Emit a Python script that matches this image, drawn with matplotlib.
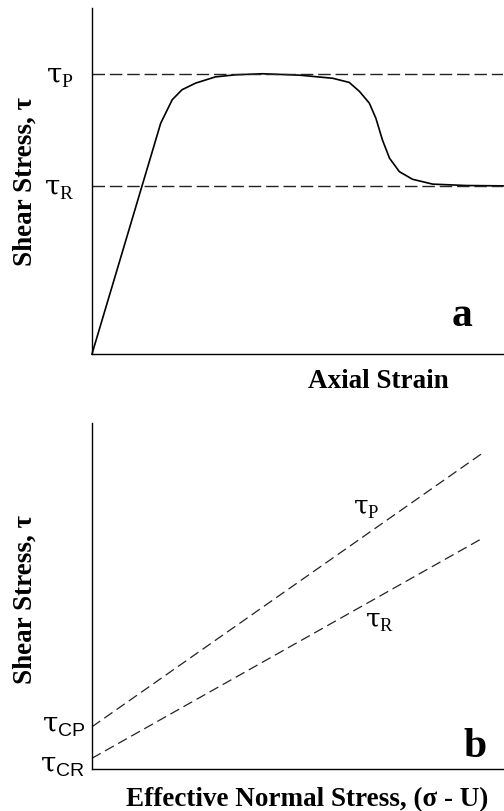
import matplotlib
matplotlib.use("Agg")
import matplotlib.pyplot as plt
import matplotlib.transforms as mtransforms

plt.rcParams['font.family'] = ['Liberation Serif', 'DejaVu Serif']
plt.rcParams['mathtext.fontset'] = 'custom'
plt.rcParams['mathtext.rm'] = 'Liberation Serif'
plt.rcParams['mathtext.it'] = 'DejaVu Serif'
plt.rcParams['mathtext.sf'] = 'Liberation Sans'

# ---- panel a: stress-strain curve ----
strain = [0, 16.7, 18.1, 19.5, 21.9, 25.2, 30.0, 34.9, 41.4,
          50.4, 58.5, 62.5, 65.0, 67.4, 69.0, 70.6, 72.3, 74.7, 77.9, 82.8,
          90.9, 100]
stress = [0, 66.7, 70.1, 73.5, 76.4, 78.3, 80.1, 80.7, 81.0,
          80.6, 79.7, 78.5, 75.9, 72.5, 68.1, 61.8, 56.6, 52.7, 50.5, 49.1,
          48.7, 48.6]
tau_peak = 80.9
tau_resid = 48.6
labels_a = [r'$\mathit{\tau}_{\rm P}$', r'$\mathit{\tau}_{\rm R}$']

# ---- panel b: failure envelopes ----
sigma = [0, 94.9]
env_peak = [12.2, 91.3]
env_resid = [3.1, 66.7]
labels_b = [r'$\mathit{\tau}_{\mathsf{CP}}$', r'$\mathit{\tau}_{\mathsf{CR}}$']

fig = plt.figure(figsize=(5.04, 8.11), dpi=100)

ax1 = fig.add_axes([0.1825, 0.5635, 0.8165, 0.4266])
ax2 = fig.add_axes([0.1825, 0.0518, 0.8165, 0.4266])

for ax in (ax1, ax2):
    ax.set_xlim(0, 100)
    ax.set_ylim(0, 100)
    ax.spines['top'].set_visible(False)
    ax.spines['right'].set_visible(False)
    ax.spines['left'].set_linewidth(1.0)
    ax.spines['bottom'].set_linewidth(1.0)
    ax.set_xticks([])
    ax.tick_params(axis='y', length=0, labelsize=20)

# panel a
ax1.plot(strain, stress, color='black', lw=1.2, clip_on=False)
ax1.axhline(tau_peak, color='#222222', lw=1.0, dashes=(9, 3.5))
ax1.axhline(tau_resid, color='#222222', lw=1.0, dashes=(9, 3.5))
ax1.set_yticks([tau_peak, tau_resid])
ax1.set_yticklabels(labels_a)
ax1.tick_params(axis='y', pad=13)
ax1.set_ylabel('Shear Stress, τ', fontsize=19.5, fontweight='bold')
ax1.set_xlabel('Axial Strain', fontsize=19.5, fontweight='bold')
ax1.xaxis.set_label_coords(0.696, -0.044)
ax1.yaxis.set_label_coords(-0.131, 0.50)
ax1.text(0.9, 0.055, 'a', transform=ax1.transAxes, fontsize=30,
         fontweight='bold', ha='center', va='bottom')

# panel b
ax2.plot(sigma, env_peak, color='#222222', lw=0.9, dashes=(8, 4))
ax2.plot(sigma, env_resid, color='#222222', lw=0.9, dashes=(8, 4))
ax2.set_yticks([])
trans = mtransforms.blended_transform_factory(ax2.transAxes, ax2.transData)
ax2.text(-0.017, env_peak[0], labels_b[0], transform=trans, fontsize=20,
         ha='right', va='center')
trans_low = mtransforms.offset_copy(trans, fig=fig, x=0, y=-6, units='points')
ax2.text(-0.017, env_resid[0], labels_b[1], transform=trans_low, fontsize=20,
         ha='right', va='center')
ax2.text(66.7, 74.9, r'$\mathit{\tau}_{\rm P}$', fontsize=19, ha='center', va='center')
ax2.text(69.8, 42.2, r'$\mathit{\tau}_{\rm R}$', fontsize=19, ha='center', va='center')
ax2.set_ylabel('Shear Stress, τ', fontsize=19.5, fontweight='bold')
ax2.set_xlabel('Effective Normal Stress, (σ - U)', fontsize=19.5, fontweight='bold')
ax2.xaxis.set_label_coords(0.523, -0.052)
ax2.yaxis.set_label_coords(-0.131, 0.49)
ax2.text(0.93, 0.01, 'b', transform=ax2.transAxes, fontsize=30,
         fontweight='bold', ha='center', va='bottom')

fig.savefig('out.png', dpi=100)
